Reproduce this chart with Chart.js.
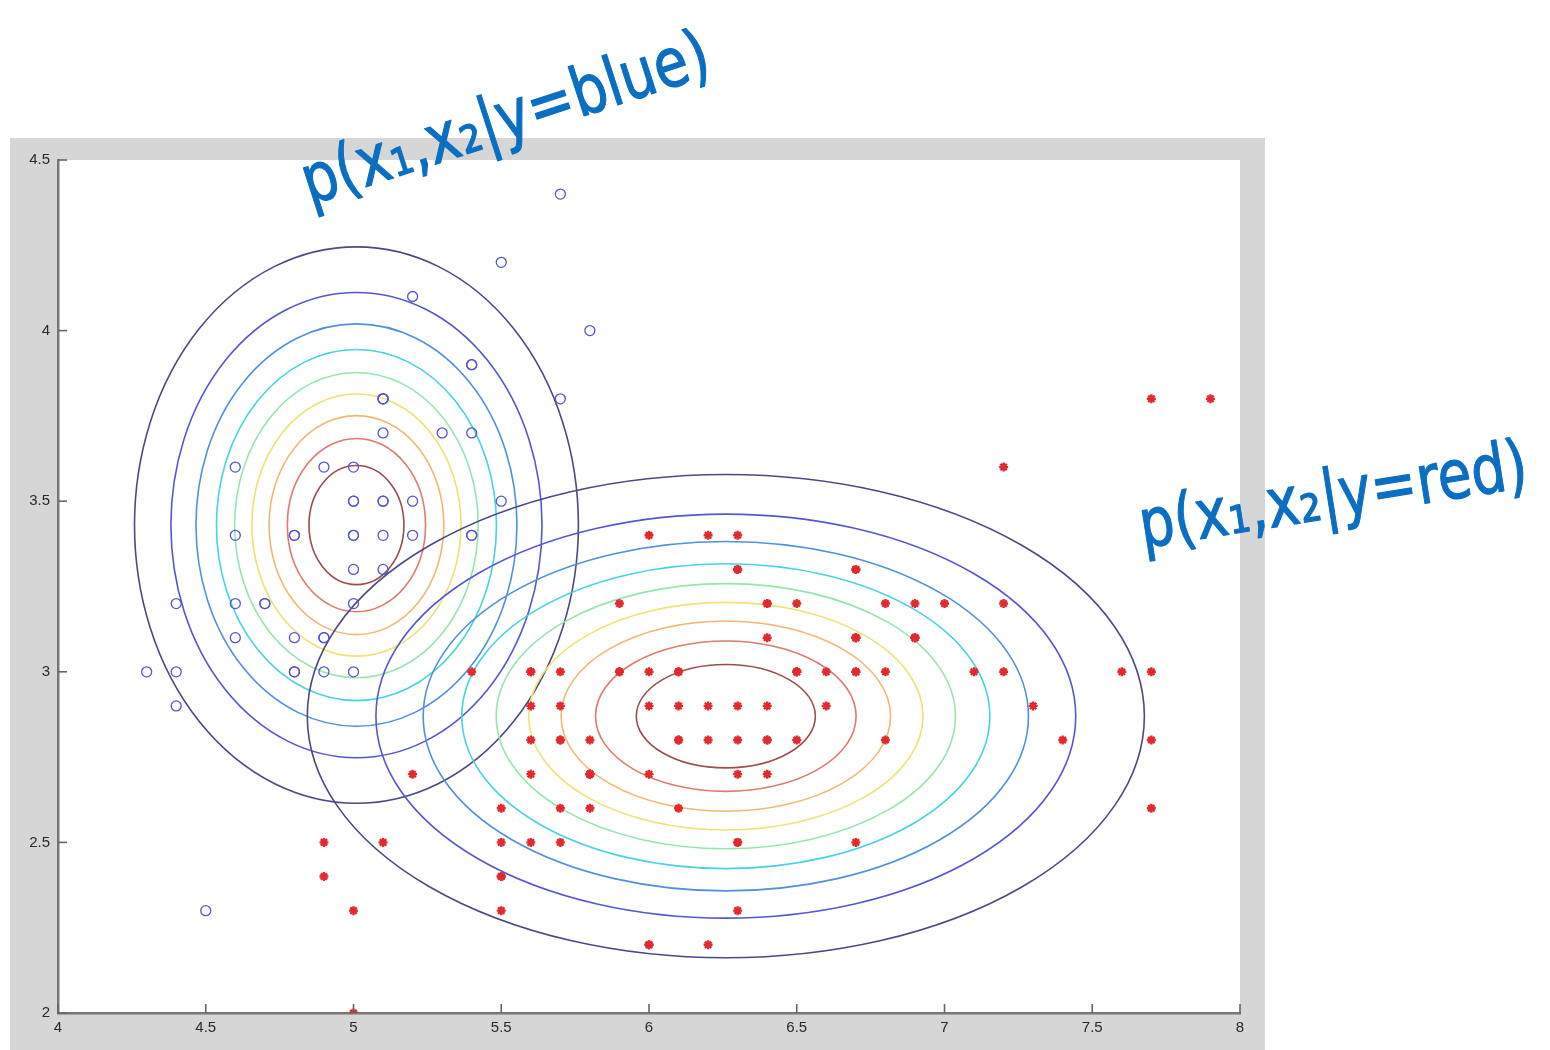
<!DOCTYPE html>
<html>
<head>
<meta charset="utf-8">
<title>p(x1,x2|y)</title>
<script src="https://cdn.jsdelivr.net/npm/chart.js@4.4.1/dist/chart.umd.min.js"></script>
<style>
  html, body { margin: 0; padding: 0; background: #ffffff; }
  #wrap { width: 1550px; height: 1050px; position: relative; }
</style>
</head>
<body>
<div id="wrap"><canvas id="c" width="1550" height="1050"></canvas></div>
<script>
// Sepal length (x1) and sepal width (x2) for the "blue" class
const blueX1 = [5.1,4.9,4.7,4.6,5.0,5.4,4.6,5.0,4.4,4.9,5.4,4.8,4.8,4.3,5.8,5.7,5.4,5.1,5.7,5.1,5.4,5.1,4.6,5.1,4.8,5.0,5.0,5.2,5.2,4.7,4.8,5.4,5.2,5.5,4.9,5.0,5.5,4.9,4.4,5.1,5.0,4.5,4.4,5.0,5.1,4.8,5.1,4.6,5.3,5.0];
const blueX2 = [3.5,3.0,3.2,3.1,3.6,3.9,3.4,3.4,2.9,3.1,3.7,3.4,3.0,3.0,4.0,4.4,3.9,3.5,3.8,3.8,3.4,3.7,3.6,3.3,3.4,3.0,3.4,3.5,3.4,3.2,3.1,3.4,4.1,4.2,3.1,3.2,3.5,3.6,3.0,3.4,3.5,2.3,3.2,3.5,3.8,3.0,3.8,3.2,3.7,3.3];

// Sepal length (x1) and sepal width (x2) for the "red" class
const redX1 = [7.0,6.4,6.9,5.5,6.5,5.7,6.3,4.9,6.6,5.2,5.0,5.9,6.0,6.1,5.6,6.7,5.6,5.8,6.2,5.6,5.9,6.1,6.3,6.1,6.4,6.6,6.8,6.7,6.0,5.7,5.5,5.5,5.8,6.0,5.4,6.0,6.7,6.3,5.6,5.5,5.5,6.1,5.8,5.0,5.6,5.7,5.7,6.2,5.1,5.7,
               6.3,5.8,7.1,6.3,6.5,7.6,4.9,7.3,6.7,7.2,6.5,6.4,6.8,5.7,5.8,6.4,6.5,7.7,7.7,6.0,6.9,5.6,7.7,6.3,6.7,7.2,6.2,6.1,6.4,7.2,7.4,7.9,6.4,6.3,6.1,7.7,6.3,6.4,6.0,6.9,6.7,6.9,5.8,6.8,6.7,6.7,6.3,6.5,6.2,5.9];
const redX2 = [3.2,3.2,3.1,2.3,2.8,2.8,3.3,2.4,2.9,2.7,2.0,3.0,2.2,2.9,2.9,3.1,3.0,2.7,2.2,2.5,3.2,2.8,2.5,2.8,2.9,3.0,2.8,3.0,2.9,2.6,2.4,2.4,2.7,2.7,3.0,3.4,3.1,2.3,3.0,2.5,2.6,3.0,2.6,2.3,2.7,3.0,2.9,2.9,2.5,2.8,
               3.3,2.7,3.0,2.9,3.0,3.0,2.5,2.9,2.5,3.6,3.2,2.7,3.0,2.5,2.8,3.2,3.0,3.8,2.6,2.2,3.2,2.8,2.8,2.7,3.3,3.2,2.8,3.0,2.8,3.0,2.8,3.8,2.8,2.8,2.6,3.0,3.4,3.1,3.0,3.1,3.1,3.1,2.7,3.2,3.3,3.0,2.5,3.0,3.4,3.0];

// Axis ticks
const xTicks = [4, 4.5, 5, 5.5, 6, 6.5, 7, 7.5, 8];
const yTicks = [2, 2.5, 3, 3.5, 4, 4.5];

// Class-conditional Gaussians (mean and standard deviation per feature)
const blueMean = [5.01, 3.43];
const blueStd  = [0.35, 0.38];
const redMean  = [6.26, 2.87];
const redStd   = [0.66, 0.33];

// Contour levels as a fraction of each density's peak value
const contourLevels = [0.1, 0.2, 0.3, 0.4, 0.5, 0.6, 0.7, 0.8, 0.9];

// Annotation texts
const noteLabels = ['p(x\u2081,x\u2082|y=blue)', 'p(x\u2081,x\u2082|y=red)'];

// jet-like palette, low level -> high level
const contourColors = ['#4a4a86', '#5656d4', '#5090e0', '#48d2e2', '#96e6ac', '#f0e274', '#f2b872', '#e07a6c', '#9c4c4c'];

const toPoints = (xs, ys) => xs.map((v, i) => ({ x: v, y: ys[i] }));

const framePlugin = {
  id: 'frame',
  beforeDraw(chart) {
    const { ctx, chartArea: a } = chart;
    ctx.save();
    ctx.fillStyle = '#d6d6d6';
    ctx.fillRect(10, 138, 1255, 912);
    ctx.fillStyle = '#ffffff';
    ctx.fillRect(a.left, a.top, a.right - a.left, a.bottom - a.top);
    ctx.restore();
  }
};

const contourPlugin = {
  id: 'contours',
  beforeDatasetsDraw(chart) {
    const { ctx, chartArea: a, scales: { x, y } } = chart;
    ctx.save();
    ctx.beginPath();
    ctx.rect(a.left, a.top, a.right - a.left, a.bottom - a.top);
    ctx.clip();
    [[blueMean, blueStd], [redMean, redStd]].forEach(([m, s]) => {
      const cx = x.getPixelForValue(m[0]);
      const cy = y.getPixelForValue(m[1]);
      contourLevels.forEach((lv, i) => {
        const r = Math.sqrt(-2 * Math.log(lv));
        const rx = Math.abs(x.getPixelForValue(m[0] + r * s[0]) - cx);
        const ry = Math.abs(y.getPixelForValue(m[1] + r * s[1]) - cy);
        ctx.beginPath();
        ctx.ellipse(cx, cy, rx, ry, 0, 0, Math.PI * 2);
        ctx.strokeStyle = contourColors[i];
        ctx.lineWidth = 1.6;
        ctx.stroke();
      });
    });
    ctx.restore();
  }
};

const inwardTicksPlugin = {
  id: 'inwardTicks',
  afterDatasetsDraw(chart) {
    const { ctx, chartArea: a, scales: { x, y } } = chart;
    ctx.save();
    ctx.strokeStyle = '#666666';
    ctx.lineWidth = 1.6;
    xTicks.forEach(v => {
      const px = x.getPixelForValue(v);
      ctx.beginPath(); ctx.moveTo(px, a.bottom); ctx.lineTo(px, a.bottom - 9); ctx.stroke();
    });
    yTicks.forEach(v => {
      const py = y.getPixelForValue(v);
      ctx.beginPath(); ctx.moveTo(a.left, py); ctx.lineTo(a.left + 9, py); ctx.stroke();
    });
    ctx.restore();
  }
};

const notesPlugin = {
  id: 'notes',
  afterDraw(chart, args, opts) {
    const { ctx } = chart;
    ctx.save();
    opts.items.forEach(n => {
      ctx.save();
      ctx.translate(n.x, n.y);
      ctx.rotate(n.angle * Math.PI / 180);
      ctx.font = n.size + 'px "DejaVu Sans"';
      const w = ctx.measureText(n.text).width;
      ctx.scale(n.width / w, 1);
      ctx.fillStyle = '#0a6fc2';
      ctx.strokeStyle = '#0a6fc2';
      ctx.lineWidth = 1.2;
      ctx.lineJoin = 'round';
      ctx.textBaseline = 'alphabetic';
      ctx.textAlign = 'left';
      ctx.fillText(n.text, 0, 0);
      ctx.strokeText(n.text, 0, 0);
      ctx.restore();
    });
    ctx.restore();
  }
};

const plainTick = v => String(v);

new Chart(document.getElementById('c'), {
  type: 'scatter',
  data: {
    datasets: [
      {
        label: 'blue',
        data: toPoints(blueX1, blueX2),
        pointStyle: 'circle',
        pointRadius: 5,
        pointBorderWidth: 1.3,
        borderColor: '#5454d4',
        backgroundColor: 'rgba(0,0,0,0)'
      },
      {
        label: 'red',
        data: toPoints(redX1, redX2),
        pointStyle: 'star',
        pointRadius: 4.5,
        pointBorderWidth: 2.4,
        borderColor: '#e02a2e',
        backgroundColor: '#e02a2e'
      }
    ]
  },
  options: {
    responsive: false,
    animation: false,
    events: [],
    layout: { padding: { left: 8, top: 160, right: 310, bottom: 0 } },
    plugins: {
      legend: { display: false },
      tooltip: { enabled: false },
      notes: {
        items: [
          { text: noteLabels[0], x: 310, y: 205, angle: -18, size: 68, width: 425 },
          { text: noteLabels[1], x: 1143, y: 548, angle: -9, size: 68, width: 392 }
        ]
      }
    },
    scales: {
      x: {
        type: 'linear',
        min: 4, max: 8,
        afterBuildTicks: s => { s.ticks = xTicks.map(v => ({ value: v })); },
        afterFit: s => { s.height = 37; },
        grid: { display: false, drawTicks: false },
        border: { display: true, color: '#777777', width: 2.5 },
        ticks: { color: '#2a2a2a', padding: 6, callback: plainTick, font: { family: 'Liberation Sans', size: 15 } }
      },
      y: {
        type: 'linear',
        min: 2, max: 4.5,
        afterBuildTicks: s => { s.ticks = yTicks.map(v => ({ value: v })); },
        afterFit: s => { s.width = 50; },
        grid: { display: false, drawTicks: false },
        border: { display: true, color: '#777777', width: 2.5 },
        ticks: { color: '#2a2a2a', padding: 8, callback: plainTick, font: { family: 'Liberation Sans', size: 15 } }
      }
    }
  },
  plugins: [framePlugin, contourPlugin, inwardTicksPlugin, notesPlugin]
});
</script>
</body>
</html>
